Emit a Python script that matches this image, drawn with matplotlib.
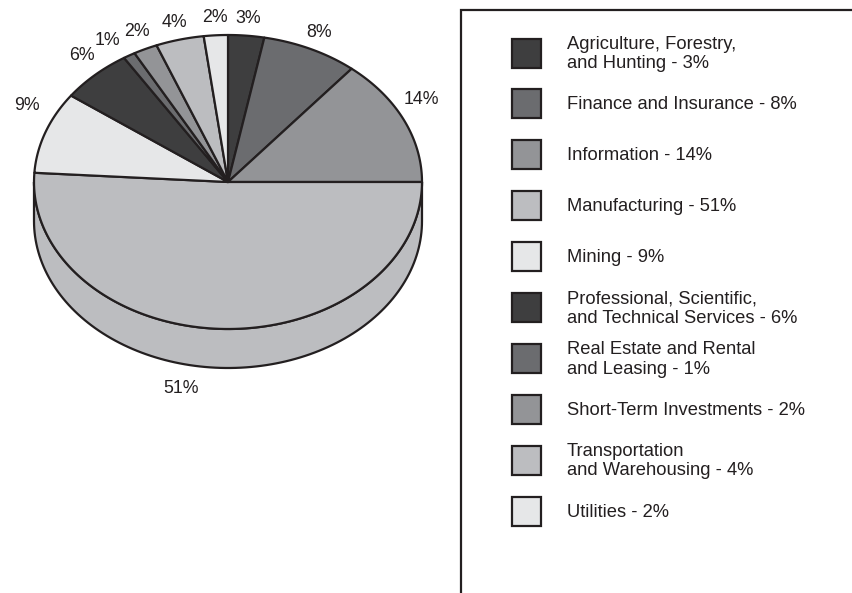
import numpy as np
import matplotlib
matplotlib.use("Agg")
import matplotlib.pyplot as plt
from matplotlib.patches import Polygon, Rectangle

plt.rcParams["font.family"] = ["Liberation Sans", "DejaVu Sans"]

# data
sectors = ["Agriculture, Forestry,\nand Hunting", "Finance and Insurance",
           "Information", "Manufacturing", "Mining",
           "Professional, Scientific,\nand Technical Services",
           "Real Estate and Rental\nand Leasing", "Short-Term Investments",
           "Transportation\nand Warehousing", "Utilities"]
shares = [3, 8, 14, 51, 9, 6, 1, 2, 4, 2]

INK = "#231f20"
GREYS = ["#3e3e3f", "#6b6c6f", "#939497", "#bcbdc0", "#e6e7e8"]
colors = [GREYS[i % 5] for i in range(len(shares))]

W, H = 853, 593
fig = plt.figure(figsize=(W / 100, H / 100), dpi=100)
ax = fig.add_axes([0, 0, 1, 1])
ax.set_xlim(0, W)
ax.set_ylim(H, 0)
ax.axis("off")

# pie geometry (pixel space, angle measured clockwise from 12 o'clock)
cx, cy, rx, ry, depth = 228, 182, 194, 147, 39
lw = 1.6


def rim(t0, t1, n=120):
    t = np.radians(np.linspace(t0, t1, n))
    return np.column_stack([cx + rx * np.sin(t), cy - ry * np.cos(t)])


bounds = np.concatenate([[0], np.cumsum(shares)]) * 3.6
mids = (bounds[:-1] + bounds[1:]) / 2

# side wall (front half only: 90..270 deg)
for a0, a1, col in zip(bounds[:-1], bounds[1:], colors):
    s0, s1 = max(a0, 90), min(a1, 270)
    if s1 <= s0:
        continue
    top = rim(s0, s1)
    bot = top[::-1] + [0, depth]
    ax.add_patch(Polygon(np.vstack([top, bot]), closed=True, fc=col,
                         ec=INK, lw=lw, joinstyle="round", zorder=1))

# top face wedges
for a0, a1, col in zip(bounds[:-1], bounds[1:], colors):
    pts = np.vstack([[cx, cy], rim(a0, a1), [cx, cy]])
    ax.add_patch(Polygon(pts, closed=True, fc=col, ec=INK, lw=lw,
                         joinstyle="round", zorder=2))

# percentage labels
for i, v in enumerate(shares):
    m = np.radians(mids[i])
    lx = cx + rx * 1.1 * np.sin(m)
    ly = cy - ry * 1.1 * np.cos(m)
    if np.cos(m) < 0:
        ly += depth + 6
        lx -= 40 * abs(np.cos(m))
    else:
        ly -= 3 + 16 * np.sin(m) ** 4
        if np.sin(m) < 0:
            ly -= 8 * np.sin(m) ** 4
    # crowded neighbours: push the label sideways
    if i + 1 < len(shares) and mids[i + 1] - mids[i] < 8:
        lx -= 12
        ly += 2
    ax.text(lx, ly, f"{v}%", ha="center", va="center", fontsize=12.8,
            color=INK)

# legend frame (top and left edges)
ax.plot([461, 461, W], [H, 10, 10], color=INK, lw=1.6,
        solid_joinstyle="miter", zorder=3)

y0, step = 53, 50.9
for i, (name, v, col) in enumerate(zip(sectors, shares, colors)):
    yc = y0 + i * step
    ax.add_patch(Rectangle((512, yc - 14.5), 29, 29, fc=col, ec=INK,
                           lw=1.6, zorder=3))
    ax.text(567, yc + 1, f"{name} - {v}%", ha="left", va="center",
            fontsize=13.2, color=INK, linespacing=1.18)

fig.savefig("out.png", dpi=100)
